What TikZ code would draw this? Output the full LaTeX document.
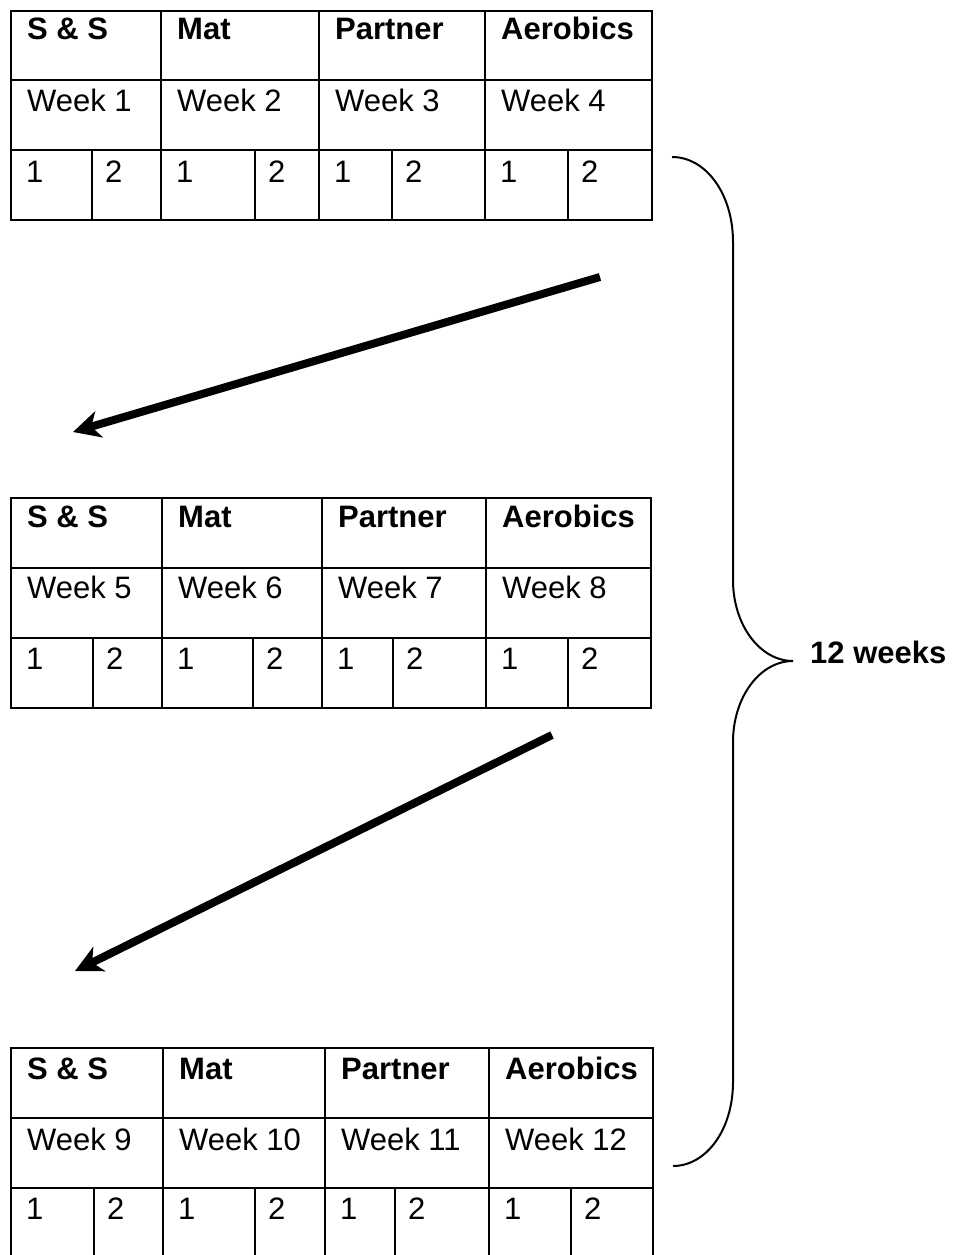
\documentclass[tikz,border=0pt]{standalone}
\usepackage{fontspec}
\setmainfont{Liberation Sans}
\usetikzlibrary{arrows.meta}
\begin{document}
\begin{tikzpicture}[x=1pt,y=-1pt,
  grid/.style={line width=2.4pt},
  cell/.style={anchor=base west, inner sep=0pt, font=\fontsize{31}{37}\selectfont},
  head/.style={cell, font=\fontsize{31}{37}\selectfont\bfseries},
  bigarrow/.style={line width=8pt, -{Stealth[length=27pt,width=27pt,inset=8pt]}},
  bracestyle/.style={line width=2pt}]
\useasboundingbox (0,0) rectangle (955,1255);

% ---------- Table 1 ----------
\draw[grid] (11,11) rectangle (652,220);
\draw[grid] (11,80) -- (652,80);
\draw[grid] (11,150) -- (652,150);
\foreach \x in {161,319,485} \draw[grid] (\x,11) -- (\x,220);
\foreach \x in {92,255,392,568} \draw[grid] (\x,150) -- (\x,220);
\foreach \x/\h/\w in {11/S \& S/1,161/Mat/2,319/Partner/3,485/Aerobics/4}{
  \node[head] (ta\w) at (\x+16,40) {\h};
  \node[cell] (tw\w) at (\x+16,111) {Week \w};
  \node[cell] (to\w) at (\x+15,182) {1};
}
\foreach \x [count=\i] in {92,255,392,568}
  \node[cell] (tt\i) at (\x+13,182) {2};

% ---------- Table 2 ----------
\draw[grid] (11,498) rectangle (651,708);
\draw[grid] (11,568) -- (651,568);
\draw[grid] (11,638) -- (651,638);
\foreach \x in {162,322,486} \draw[grid] (\x,498) -- (\x,708);
\foreach \x in {93,253,393,568} \draw[grid] (\x,638) -- (\x,708);
\foreach \x/\h/\w in {11/S \& S/5,162/Mat/6,322/Partner/7,486/Aerobics/8}{
  \node[head] (ua\w) at (\x+16,527) {\h};
  \node[cell] (uw\w) at (\x+16,598) {Week \w};
  \node[cell] (uo\w) at (\x+15,669) {1};
}
\foreach \x [count=\i] in {93,253,393,568}
  \node[cell] (ut\i) at (\x+13,669) {2};

% ---------- Table 3 (cut by the page bottom) ----------
\draw[grid] (11,1262) -- (11,1048) -- (653,1048) -- (653,1262);
\draw[grid] (11,1118) -- (653,1118);
\draw[grid] (11,1188) -- (653,1188);
\foreach \x in {163,325,489} \draw[grid] (\x,1048) -- (\x,1262);
\foreach \x in {94,255,395,571} \draw[grid] (\x,1188) -- (\x,1262);
\foreach \x/\h/\w in {11/S \& S/9,163/Mat/10,325/Partner/11,489/Aerobics/12}{
  \node[head] (va\w) at (\x+16,1079) {\h};
  \node[cell] (vw\w) at (\x+16,1150) {Week \w};
  \node[cell] (vo\w) at (\x+15,1219) {1};
}
\foreach \x [count=\i] in {94,255,395,571}
  \node[cell] (vt\i) at (\x+13,1219) {2};

% ---------- Arrows ----------
\coordinate (a1s) at (600,277);
\coordinate (a1e) at (73,432);
\coordinate (a2s) at (552,735);
\coordinate (a2e) at (75,971);
\draw[bigarrow] (a1s) -- (a1e);
\draw[bigarrow] (a2s) -- (a2e);

% ---------- Brace ----------
\coordinate (btop) at (672,157);
\coordinate (btip) at (793,661);
\coordinate (bbot) at (673,1166);
\draw[bracestyle] (btop) .. controls (706,157) and (733,194) .. (733,242)
  -- (733,580) .. controls (733,625) and (760,661) .. (btip)
  .. controls (760,661) and (733,697) .. (733,742)
  -- (733,1082) .. controls (733,1130) and (706,1166) .. (bbot);
\node[head] (weeks) at (810,663) {12 weeks};
\end{tikzpicture}
\end{document}
